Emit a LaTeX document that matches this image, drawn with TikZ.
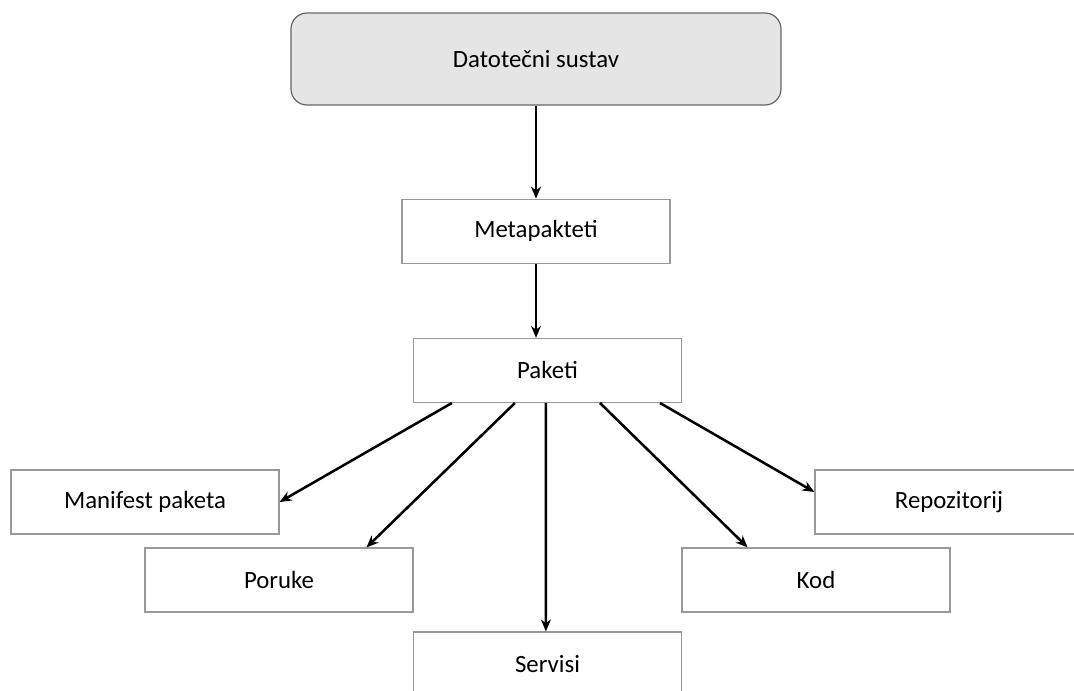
\documentclass[tikz,border=0pt]{standalone}
\usepackage{fontspec}
\setmainfont{Carlito}
\usetikzlibrary{arrows.meta,positioning,calc}

\begin{document}
\begin{tikzpicture}[
    x=0.75pt, y=-0.75pt,
    root/.style={rectangle, draw=black!60, fill=black!10, rounded corners=12pt, minimum width=367.5pt, minimum height=69pt, line width=0.9pt},
    box/.style={rectangle, draw=black!40, fill=white, minimum width=201pt, minimum height=48pt, line width=0.9pt},
    wire/.style={-{Stealth[length=9pt,width=7.5pt]}, line width=1.9pt, color=black},
    every node/.style={font=\fontsize{18.6}{22}\selectfont}
]
    \useasboundingbox (0,0) rectangle (1074,690);

    % Main chain
    \node [root] (fs) at (536,59) {Datotečni sustav};
    \node [box, below=69.75pt of fs] (meta) {Metapakteti};
    \node [box, below=55.5pt of meta, xshift=8.6pt] (paket) {Paketi};

    % Contents of a package
    \node [box] (manifest) at (145,502) {Manifest paketa};
    \node [box] (poruke) at (279,580) {Poruke};
    \node [box] (servisi) at (547.5,664) {Servisi};
    \node [box] (kod) at (816,580) {Kod};
    \node [box] (repo) at (949,502) {Repozitorij};

    % Connections
    \draw [wire] (fs) -- (meta);
    \draw [wire] (meta.south) -- (meta.south |- paket.north);
    \draw [wire] ($(paket.south west)!0.145!(paket.south east)$) -- (manifest.east);
    \draw [wire] ($(paket.south west)!0.379!(paket.south east)$) -- ($(poruke.north west)!0.825!(poruke.north east)$);
    \draw [wire] ($(paket.south west)!0.494!(paket.south east)$) -- ($(servisi.north west)!0.494!(servisi.north east)$);
    \draw [wire] ($(paket.south west)!0.695!(paket.south east)$) -- ($(kod.north west)!0.246!(kod.north east)$);
    \draw [wire] ($(paket.south west)!0.918!(paket.south east)$) -- ([yshift=7.5pt]repo.west);
\end{tikzpicture}
\end{document}
